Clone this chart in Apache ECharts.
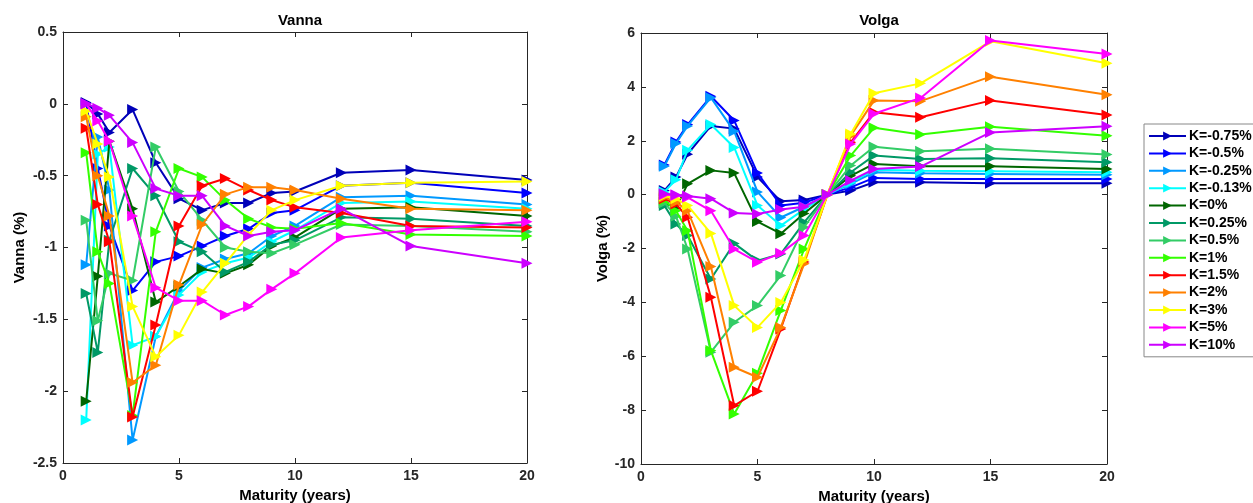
<!DOCTYPE html>
<html>
<head>
<meta charset="utf-8">
<script src="https://cdn.jsdelivr.net/npm/echarts@6/dist/echarts.min.js"></script>
<style>
html,body{margin:0;padding:0;background:#fff;}
#c{width:1253px;height:503px;}
</style>
</head>
<body>
<div id="c"></div>
<script>
// ---------- data ----------
const maturities = [1, 1.5, 2, 3, 4, 5, 6, 7, 8, 9, 10, 12, 15, 20];
const strikeLabels = ['K=-0.75%','K=-0.5%','K=-0.25%','K=-0.13%','K=0%','K=0.25%','K=0.5%','K=1%','K=1.5%','K=2%','K=3%','K=5%','K=10%'];
const colors = ['#0000b8','#0000ff','#0099ff','#00ffff','#006600','#009966','#33cc66','#33ff00','#ff0000','#ff8000','#ffff00','#ff00ff','#cc00ff'];

const xTicks = [0, 5, 10, 15, 20];
const vannaTicks = [-2.5, -2, -1.5, -1, -0.5, 0, 0.5];
const volgaTicks = [-10, -8, -6, -4, -2, 0, 2, 4, 6];

// Vanna (%)
const vanna_Km075 = [0.01, -0.07, -0.20, -0.04, -0.41, -0.66, -0.74, -0.69, -0.69, -0.62, -0.61, -0.48, -0.46, -0.53];
const vanna_Km05  = [0.00, -0.45, -0.85, -1.30, -1.10, -1.06, -0.99, -0.92, -0.87, -0.76, -0.74, -0.57, -0.55, -0.62];
const vanna_Km025 = [-1.12, -0.23, -0.60, -2.34, -1.62, -1.30, -1.14, -1.08, -1.04, -0.92, -0.85, -0.65, -0.64, -0.70];
const vanna_Km013 = [-2.20, -0.35, -0.30, -1.68, -1.62, -1.33, -1.17, -1.11, -1.07, -0.96, -0.88, -0.69, -0.68, -0.73];
const vanna_K0    = [-2.07, -1.20, -0.26, -0.73, -1.38, -1.27, -1.15, -1.18, -1.12, -0.99, -0.93, -0.73, -0.72, -0.78];
const vanna_K025  = [-1.32, -1.73, -0.95, -0.45, -0.64, -0.96, -1.03, -1.17, -1.10, -0.98, -0.95, -0.79, -0.80, -0.85];
const vanna_K05   = [-0.81, -1.51, -1.18, -1.23, -0.30, -0.61, -0.81, -1.00, -1.03, -1.04, -0.98, -0.84, -0.85, -0.89];
const vanna_K1    = [-0.34, -1.03, -1.25, -2.17, -0.89, -0.45, -0.51, -0.67, -0.80, -0.86, -0.87, -0.83, -0.91, -0.92];
const vanna_K15   = [-0.17, -0.70, -0.96, -2.18, -1.54, -0.85, -0.57, -0.52, -0.60, -0.67, -0.72, -0.76, -0.85, -0.86];
const vanna_K2    = [-0.09, -0.50, -0.78, -1.94, -1.82, -1.26, -0.84, -0.63, -0.58, -0.58, -0.60, -0.66, -0.73, -0.74];
const vanna_K3    = [-0.05, -0.28, -0.51, -1.41, -1.76, -1.61, -1.31, -1.11, -0.91, -0.74, -0.67, -0.57, -0.55, -0.54];
const vanna_K5    = [0.00, -0.12, -0.26, -0.78, -1.28, -1.37, -1.37, -1.47, -1.41, -1.29, -1.18, -0.93, -0.88, -0.82];
const vanna_K10   = [0.00, -0.03, -0.08, -0.27, -0.59, -0.64, -0.64, -0.85, -0.92, -0.89, -0.88, -0.73, -0.99, -1.11];

// Volga (%)
const volga_Km075 = [0.15, 0.65, 1.50, 2.55, 2.45, 0.65, -0.25, -0.20, 0, 0.15, 0.46, 0.46, 0.42, 0.42];
const volga_Km05  = [1.10, 1.95, 2.60, 3.65, 2.75, 0.80, -0.40, -0.30, 0, 0.27, 0.62, 0.58, 0.58, 0.58];
const volga_Km025 = [1.05, 1.90, 2.55, 3.60, 2.35, 0.10, -0.85, -0.45, 0, 0.40, 0.83, 0.79, 0.77, 0.74];
const volga_Km013 = [0.10, 0.55, 1.65, 2.60, 1.75, -0.40, -1.15, -0.55, 0, 0.45, 0.92, 0.89, 0.87, 0.83];
const volga_K0    = [-0.30, -0.50, 0.40, 0.90, 0.80, -1.00, -1.45, -0.70, 0, 0.70, 1.14, 1.05, 1.05, 0.95];
const volga_K025  = [-0.40, -1.09, -1.52, -3.13, -1.81, -2.45, -2.20, -1.03, 0, 0.83, 1.45, 1.32, 1.35, 1.20];
const volga_K05   = [-0.30, -0.80, -2.02, -5.85, -4.74, -4.12, -3.00, -1.21, 0, 1.08, 1.78, 1.61, 1.70, 1.49];
const volga_K1    = [-0.20, -0.60, -1.34, -5.79, -8.14, -6.63, -4.30, -2.02, 0, 1.45, 2.48, 2.23, 2.52, 2.19];
const volga_K15   = [-0.15, -0.35, -0.84, -3.81, -7.83, -7.30, -4.99, -2.50, 0, 1.94, 3.06, 2.87, 3.49, 2.96];
const volga_K2    = [-0.10, -0.28, -0.60, -2.67, -6.41, -6.78, -4.93, -2.57, 0, 2.19, 3.49, 3.47, 4.38, 3.71];
const volga_K3    = [-0.05, -0.15, -0.40, -1.44, -4.12, -4.93, -4.00, -2.43, 0, 2.25, 3.76, 4.13, 5.69, 4.88];
const volga_K5    = [0.00, -0.03, -0.10, -0.60, -2.02, -2.51, -2.18, -1.52, 0, 1.88, 3.00, 3.59, 5.72, 5.22];
const volga_K10   = [0.03, 0.00, -0.05, -0.15, -0.68, -0.72, -0.55, -0.45, 0, 0.52, 0.95, 1.04, 2.31, 2.54];

const vannaSeries = [vanna_Km075, vanna_Km05, vanna_Km025, vanna_Km013, vanna_K0, vanna_K025, vanna_K05, vanna_K1, vanna_K15, vanna_K2, vanna_K3, vanna_K5, vanna_K10];
const volgaSeries = [volga_Km075, volga_Km05, volga_Km025, volga_Km013, volga_K0, volga_K025, volga_K05, volga_K1, volga_K15, volga_K2, volga_K3, volga_K5, volga_K10];

// ---------- chart ----------
const FONT = '"Liberation Sans", Arial, sans-serif';
const AXC = '#262626';
const tri = 'path://M0,0L10,5L0,10Z';

function xAx(gi, pos, labels, name) {
  return {
    type: 'value', gridIndex: gi, position: pos, min: xTicks[0], max: xTicks[xTicks.length - 1], interval: 5,
    name: name || '', nameLocation: 'middle', nameGap: 24,
    nameTextStyle: {fontFamily: FONT, fontWeight: 'bold', fontSize: 15, color: '#000'},
    axisLine: {show: true, onZero: false, lineStyle: {color: AXC, width: 1}},
    axisTick: {show: true, inside: true, length: 5, lineStyle: {color: AXC}},
    axisLabel: {show: labels, fontFamily: FONT, fontWeight: 'bold', fontSize: 14, color: AXC, margin: 6},
    splitLine: {show: false}
  };
}
function yAx(gi, pos, ticks, labels, name, gap) {
  return {
    type: 'value', gridIndex: gi, position: pos, min: ticks[0], max: ticks[ticks.length - 1],
    interval: ticks[1] - ticks[0],
    name: name || '', nameLocation: 'middle', nameGap: gap || 30, nameRotate: 90,
    nameTextStyle: {fontFamily: FONT, fontWeight: 'bold', fontSize: 15, color: '#000'},
    axisLine: {show: true, onZero: false, lineStyle: {color: AXC, width: 1}},
    axisTick: {show: true, inside: true, length: 5, lineStyle: {color: AXC}},
    axisLabel: {show: labels, fontFamily: FONT, fontWeight: 'bold', fontSize: 14, color: AXC, margin: 6},
    splitLine: {show: false}
  };
}

const series = [];
strikeLabels.forEach((lab, i) => {
  series.push({
    name: lab, type: 'line', xAxisIndex: 0, yAxisIndex: 0,
    data: maturities.map((m, j) => [m, vannaSeries[i][j]]),
    symbol: tri, symbolSize: [11, 11], showSymbol: true,
    lineStyle: {color: colors[i], width: 2}, itemStyle: {color: colors[i]},
    animation: false, z: 2 + i
  });
  series.push({
    name: lab, type: 'line', xAxisIndex: 2, yAxisIndex: 2,
    data: maturities.map((m, j) => [m, volgaSeries[i][j]]),
    symbol: tri, symbolSize: [11, 11], showSymbol: true,
    lineStyle: {color: colors[i], width: 2}, itemStyle: {color: colors[i]},
    animation: false, z: 2 + i
  });
});

const chart = echarts.init(document.getElementById('c'), null, {renderer: 'canvas'});
chart.setOption({
  backgroundColor: '#fff',
  animation: false,
  title: [
    {text: 'Vanna', left: 295, top: 8, textAlign: 'center', textStyle: {fontFamily: FONT, fontWeight: 'bold', fontSize: 15, color: '#000'}},
    {text: 'Volga', left: 874, top: 8, textAlign: 'center', textStyle: {fontFamily: FONT, fontWeight: 'bold', fontSize: 15, color: '#000'}}
  ],
  grid: [
    {left: 63, top: 32, width: 464, height: 431, containLabel: false, outerBoundsMode: 'none'},
    {left: 641, top: 33, width: 466, height: 431, containLabel: false, outerBoundsMode: 'none'}
  ],
  xAxis: [
    xAx(0, 'bottom', true, 'Maturity (years)'),
    xAx(0, 'top', false),
    xAx(1, 'bottom', true, 'Maturity (years)'),
    xAx(1, 'top', false)
  ],
  yAxis: [
    yAx(0, 'left', vannaTicks, true, 'Vanna (%)', 36),
    yAx(0, 'right', vannaTicks, false),
    yAx(1, 'left', volgaTicks, true, 'Volga (%)', 31),
    yAx(1, 'right', volgaTicks, false)
  ],
  legend: {
    orient: 'vertical', left: 1144, top: 124,
    data: strikeLabels,
    itemWidth: 37, itemHeight: 11, itemGap: 3.4,
    padding: [5, 4, 5, 4],
    borderColor: '#888', borderWidth: 1, backgroundColor: '#fff',
    textStyle: {fontFamily: FONT, fontWeight: 'bold', fontSize: 14, color: '#000', lineHeight: 14, padding: [0,0,0,-2]},
    selectedMode: false
  },
  series: series
});
</script>
</body>
</html>
